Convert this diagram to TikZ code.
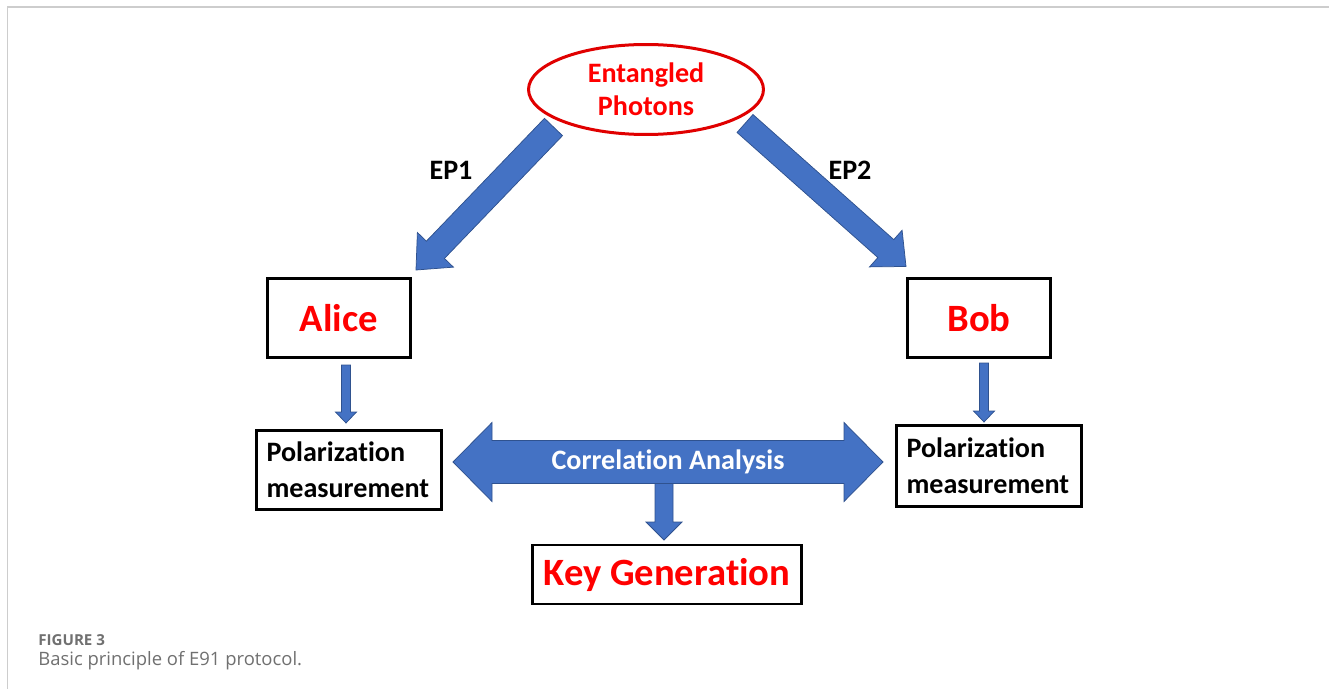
\documentclass[tikz,border=0pt]{standalone}
\usepackage{fontspec}
\setmainfont{Carlito}[Ligatures=NoCommon]
\newfontfamily\captionfont{Open Sans}
\usetikzlibrary{shapes.geometric,calc}

\definecolor{arrowblue}{HTML}{4472C4}
\definecolor{arrowedge}{HTML}{2F528F}
\definecolor{textred}{HTML}{FF0000}
\definecolor{ringred}{HTML}{E00000}
\definecolor{framegray}{HTML}{CDCDCD}
\definecolor{capgray}{HTML}{707070}

% start, tip, half shaft, half head, head length
\newcommand{\blockarrow}[5]{%
  \coordinate (HeadBase) at ($(#2)!#5!(#1)$);
  \path[blockarrow] ($(#1)!#3!90:(#2)$) -- ($(HeadBase)!#3!90:(#2)$) -- ($(HeadBase)!#4!90:(#2)$) -- (#2)
    -- ($(HeadBase)!#4!-90:(#2)$) -- ($(HeadBase)!#3!-90:(#2)$) -- ($(#1)!#3!-90:(#2)$) -- cycle;
}

\begin{document}
\begin{tikzpicture}[x=0.02cm, y=-0.02cm, every node/.style={inner sep=0pt},
    blockarrow/.style={fill=arrowblue, draw=arrowedge, line width=0.15mm, line join=miter},
    party/.style={draw, line width=0.5mm, minimum width=28.6mm, minimum height=15.8mm, text=textred, font=\fontsize{22}{26}\selectfont\bfseries},
    measbox/.style={draw, line width=0.5mm, text width=33mm, inner xsep=2mm, minimum height=15.9mm, align=left, font=\fontsize{16}{20.6}\selectfont\bfseries},
    eplabel/.style={font=\fontsize{16}{19}\selectfont\bfseries}]
    \useasboundingbox (0,0) rectangle (1329,689);
    \draw [framegray, line width=0.4mm] (7.5,689) -- (7.5,7.5) -- (1329,7.5);

    \node [ellipse, draw=ringred, line width=0.6mm, minimum width=47mm, minimum height=18mm, align=center, text=textred, font=\fontsize{16}{18.7}\selectfont\bfseries] (Photons) at (646,89.5) {Entangled\\Photons};
    \node [party] (Alice) at (339,318) {Alice};
    \node [party] (Bob) at (979,318) {Bob};
    \node [measbox] (AlicePol) at (349,470) {Polarization\\measurement};
    \node [measbox, minimum height=16.2mm] (BobPol) at (989,466) {Polarization\\measurement};
    \node [draw, line width=0.55mm, minimum width=53.8mm, minimum height=11.8mm, text=textred, font=\fontsize{22}{26}\selectfont\bfseries] (KeyGen) at (667,574.5) {Key Generation};

    \node [eplabel] (EPone) at (451,170) {EP1};
    \node [eplabel] (EPtwo) at (850,170) {EP2};

    \coordinate (EPoneStart) at (553.5,127);
    \coordinate (EPoneTip) at (416,270);
    \coordinate (EPtwoStart) at (745,123.5);
    \coordinate (EPtwoTip) at (906,266.5);
    \coordinate (AliceOut) at (346,365);
    \coordinate (AliceIn) at (346,423);
    \coordinate (BobOut) at (984,363);
    \coordinate (BobIn) at (984,422);
    \coordinate (CorrL) at (453,462);
    \coordinate (CorrR) at (883,462);
    \coordinate (CorrOut) at (664,482);
    \coordinate (KeyIn) at (664,540);

    \blockarrow{EPoneStart}{EPoneTip}{2.5mm}{5mm}{5.6mm}
    \blockarrow{EPtwoStart}{EPtwoTip}{2.4mm}{4.9mm}{5.4mm}
    \blockarrow{AliceOut}{AliceIn}{0.9mm}{2.1mm}{2.2mm}
    \blockarrow{BobOut}{BobIn}{0.9mm}{2.1mm}{2.2mm}
    \blockarrow{CorrOut}{KeyIn}{1.8mm}{3.6mm}{3.6mm}
    \path [blockarrow] (CorrL) -- ++(39,-39.5) -- ++(0,18) -- ($(CorrR)+(-39,-21.5)$) -- ++(0,-18) -- (CorrR)
        -- ++(-39,39.5) -- ++(0,-18) -- ($(CorrL)+(39,21.5)$) -- ++(0,18) -- cycle;
    \node [text=white, font=\fontsize{16}{19}\selectfont\bfseries] (Correlation) at ($(CorrL)!0.5!(CorrR)$) {Correlation Analysis};

    \node [anchor=base west, text=capgray, font=\captionfont\fontsize{8.6}{10}\selectfont\bfseries] (FigNum) at (38,645) {FIGURE 3};
    \node [anchor=base west, text=capgray, font=\captionfont\fontsize{10.5}{12}\selectfont] (FigText) at (38,665) {Basic principle of E91 protocol.};
\end{tikzpicture}
\end{document}
